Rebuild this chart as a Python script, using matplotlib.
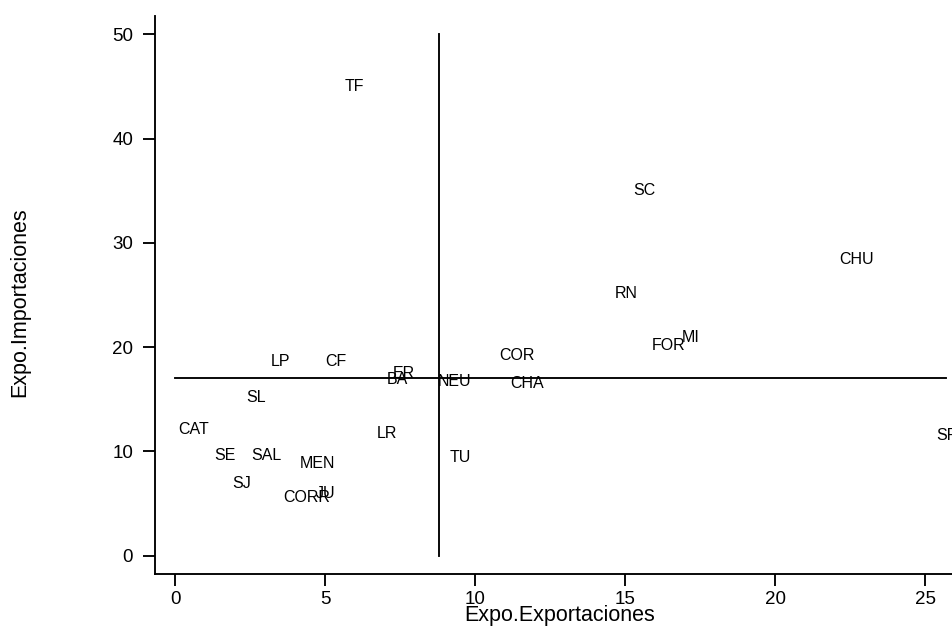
import matplotlib
matplotlib.use("Agg")
import matplotlib.pyplot as plt

# ---- data ----
provinces = ["TF", "SC", "CHU", "RN", "FOR", "MI", "COR", "CHA", "LP", "CF",
             "ER", "BA", "NEU", "SL", "CAT", "LR", "TU", "SE", "SAL", "MEN",
             "SJ", "CORR", "JU", "SF"]
exportaciones = [5.99, 15.64, 22.70, 15.02, 16.44, 17.17, 11.40, 11.73, 3.51, 5.35,
                 7.63, 7.40, 9.33, 2.71, 0.61, 7.07, 9.50, 1.67, 3.03, 4.76,
                 2.22, 4.38, 5.01, 25.70]
importaciones = [45.13, 35.11, 28.51, 25.27, 20.31, 21.05, 19.36, 16.64, 18.73, 18.73,
                 17.61, 17.05, 16.80, 15.29, 12.24, 11.86, 9.58, 9.77, 9.77, 8.97,
                 7.05, 5.71, 6.09, 11.65]
ref_export = 8.81          # vertical reference line
ref_import = 17.0          # horizontal reference line
vline_span = [0, 50]       # y-extent of vertical line
x_ticks = [0, 5, 10, 15, 20, 25]
y_ticks = [0, 10, 20, 30, 40, 50]
x_label = "Expo.Exportaciones"
y_label = "Expo.Importaciones"

plt.rcParams['font.family'] = ['Liberation Sans', 'DejaVu Sans']

W, H = 953, 630
fig = plt.figure(figsize=(W / 100, H / 100), dpi=100)
left_px, right_px, top_px, bottom_px = 154.7, 953, 16, 573.7
ax = fig.add_axes([left_px / W, 1 - bottom_px / H,
                   (right_px - left_px) / W, (bottom_px - top_px) / H])
ax.set_xlim(-0.68, 25.93)
ax.set_ylim(-1.73, 51.75)

lw = 1.35
ax.plot([ref_export, ref_export], vline_span, color='black', lw=lw)
ax.plot([0, max(exportaciones)], [ref_import, ref_import], color='black', lw=lw)

label_size = 11.5
for name, xv, yv in zip(provinces, exportaciones, importaciones):
    ax.annotate(name, (xv, yv), xytext=(0, -0.36 * label_size),
                textcoords='offset points', ha='center', va='baseline',
                fontsize=label_size, color='black', clip_on=True,
                annotation_clip=False)

for s in ['top', 'right']:
    ax.spines[s].set_visible(False)
for s in ['left', 'bottom']:
    ax.spines[s].set_linewidth(lw)

ax.set_xticks(x_ticks)
ax.set_yticks(y_ticks)
ax.tick_params(direction='out', length=8.6, width=lw,
               labelsize=13.5, colors='black')
ax.tick_params(axis='x', pad=3.5)
ax.tick_params(axis='y', pad=7)

ax.set_xlabel(x_label, fontsize=15.5)
ax.set_ylabel(y_label, fontsize=15.5)
ax.xaxis.set_label_coords((560 - left_px) / (right_px - left_px),
                          (bottom_px - 605) / (bottom_px - top_px))
ax.yaxis.label.set_va('center')
ax.yaxis.set_label_coords((20 - left_px) / (right_px - left_px),
                          (bottom_px - 301.7) / (bottom_px - top_px))

fig.savefig("out.png", dpi=100)
